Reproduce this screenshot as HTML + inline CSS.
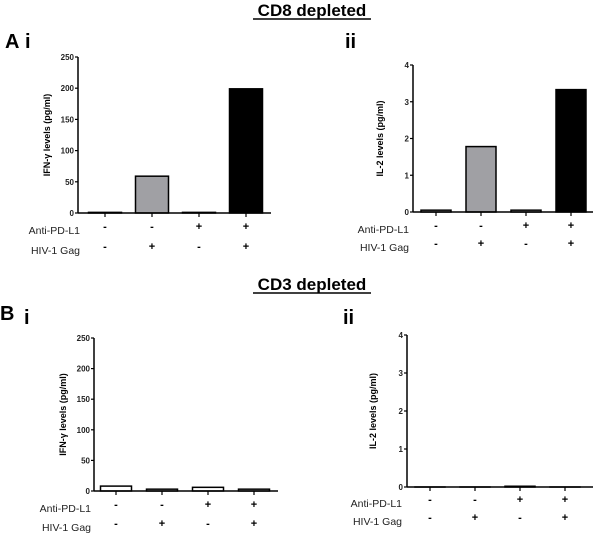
<!DOCTYPE html>
<html><head><meta charset="utf-8"><style>
body{margin:0;background:#fff;}
svg text{font-family:"Liberation Sans",Arial,sans-serif;}
</style></head><body>
<svg width="600" height="545" viewBox="0 0 600 545" xmlns="http://www.w3.org/2000/svg" id="fig">
<text x="312" y="16" font-size="17" font-weight="bold" text-anchor="middle">CD8 depleted</text>
<line x1="253" y1="19" x2="371" y2="19" stroke="#000" stroke-width="1.5"/>
<text x="5" y="48" font-size="20" font-weight="bold">A</text>
<text x="25" y="48" font-size="20" font-weight="bold">i</text>
<text x="345" y="48" font-size="20" font-weight="bold">ii</text>
<text x="312" y="290" font-size="17" font-weight="bold" text-anchor="middle">CD3 depleted</text>
<line x1="253" y1="293" x2="371" y2="293" stroke="#000" stroke-width="1.5"/>
<text x="0" y="320" font-size="20" font-weight="bold">B</text>
<text x="24" y="324" font-size="20" font-weight="bold">i</text>
<text x="343" y="324" font-size="20" font-weight="bold">ii</text>
</svg>
<script>
const antiPDL1 = ['-','-','+','+'];
const hivGag = ['-','+','-','+'];
const barColors = ['#ffffff','#a0a0a4','#ffffff','#000000'];
const aiValues = [1, 59, 1, 199];
const aiTicks = [0,50,100,150,200,250];
const aiiValues = [0.05, 1.78, 0.05, 3.33];
const aiiTicks = [0,1,2,3,4];
const biValues = [8, 3, 6, 3];
const biTicks = [0,50,100,150,200,250];
const biiValues = [0, 0, 0.02, 0];
const biiTicks = [0,1,2,3,4];
const biiColors = ['#ffffff','#ffffff','#ffffff','#ffffff'];
const biColors = ['#ffffff','#ffffff','#ffffff','#ffffff'];

const NS='http://www.w3.org/2000/svg';
const svg=document.getElementById('fig');
function mk(tag,attrs,parent){const e=document.createElementNS(NS,tag);for(const k in attrs)e.setAttribute(k,attrs[k]);(parent||svg).appendChild(e);return e;}

function panel(p){
  const g=mk('g',{});
  
  
  const max=p.ticks[p.ticks.length-1];
  const y=v=>p.y0-(v/max)*(p.y0-p.yTop);
  const bw=p.bw;
  p.values.forEach((v,i)=>{
    const cx=p.x0+p.first+i*p.step;
    const r=mk('rect',{x:cx-bw/2,y:y(v),width:bw,height:Math.max(p.y0-y(v),0.01),fill:p.colors[i],stroke:'#000','stroke-width':1.5},g);
    
    
    const t1=mk('text',{x:cx,y:p.r1,'font-size':11,'font-weight':'bold','text-anchor':'middle'},g);
    t1.textContent=antiPDL1[i];
    
    
    const t2=mk('text',{x:cx,y:p.r2,'font-size':11,'font-weight':'bold','text-anchor':'middle'},g);
    t2.textContent=hivGag[i];
    
    
    mk('line',{x1:cx,y1:p.y0,x2:cx,y2:p.y0+4,stroke:'#000','stroke-width':1.2},g);
  });
  const ya=mk('line',{x1:p.x0,y1:p.yTop,x2:p.x0,y2:p.y0,stroke:'#000','stroke-width':1.5},g);
  
  
  const xa=mk('line',{x1:p.x0,y1:p.y0,x2:p.xEnd,y2:p.y0,stroke:'#000','stroke-width':1.5},g);
  
  
  p.ticks.forEach(t=>{
    mk('line',{x1:p.x0-3,y1:y(t),x2:p.x0,y2:y(t),stroke:'#000','stroke-width':1.2},g);
    const tl=mk('text',{x:p.x0-4,y:y(t)+3,'font-size':8,'font-weight':'bold','text-anchor':'end',fill:'#222'},g);
    tl.textContent=t;
    
    
  });
  const ty=(p.yTop+p.y0)/2;
  const yt=mk('text',{x:p.titleX,y:ty,'font-size':9,'font-weight':'bold','text-anchor':'middle',transform:`rotate(-90 ${p.titleX} ${ty})`},g);
  yt.textContent=p.title;
  
  
  const l1=mk('text',{x:p.labelR,y:p.r1+4,'font-size':10.5,'text-anchor':'end',fill:'#222'},g);
  l1.textContent='Anti-PD-L1';
  
  
  const l2=mk('text',{x:p.labelR,y:p.r2+4,'font-size':10.5,'text-anchor':'end',fill:'#222'},g);
  l2.textContent='HIV-1 Gag';
  
  
}
panel({name:'chart-a-i',values:aiValues,ticks:aiTicks,colors:barColors,x0:78,yTop:57,y0:213,xEnd:271,first:27,step:47,bw:33,r1:230,r2:250,labelR:80,titleX:50,title:'IFN-\u03b3 levels (pg/ml)'});
panel({name:'chart-a-ii',values:aiiValues,ticks:aiiTicks,colors:barColors,x0:413,yTop:65,y0:212,xEnd:593,first:23,step:45,bw:30,r1:229,r2:247,labelR:409,titleX:383,title:'IL-2 levels (pg/ml)'});
panel({name:'chart-b-i',values:biValues,ticks:biTicks,colors:biColors,x0:94,yTop:338,y0:491,xEnd:278,first:22,step:46,bw:31,r1:508,r2:527,labelR:91,titleX:66,title:'IFN-\u03b3 levels (pg/ml)'});
panel({name:'chart-b-ii',values:biiValues,ticks:biiTicks,colors:biiColors,x0:407,yTop:335,y0:487,xEnd:593,first:23,step:45,bw:30,r1:503,r2:521,labelR:402,titleX:376,title:'IL-2 levels (pg/ml)'});
</script>
</body></html>
